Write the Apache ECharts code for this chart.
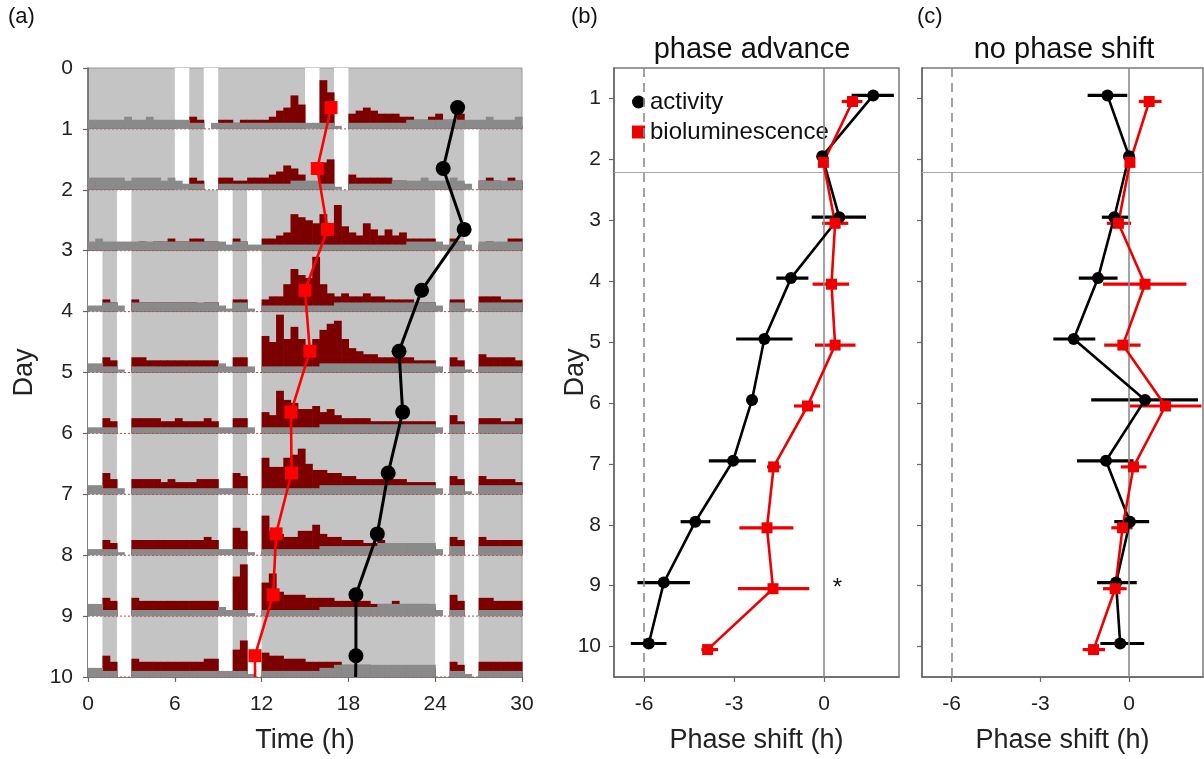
<!DOCTYPE html>
<html><head><meta charset="utf-8">
<script src="https://cdn.jsdelivr.net/npm/echarts@6/dist/echarts.min.js"></script>
<style>html,body{margin:0;padding:0;background:#fff}#c{width:1204px;height:759px}</style>
</head><body><div id="c"></div>
<script>
// ---------- data ----------
const days = [1,2,3,4,5,6,7,8,9,10];
// panel (a): onset times on the actogram (h)
const actOnsetA = [25.55,24.55,26.0,23.06,21.5,21.75,20.75,20.0,18.52,18.52];
const bioPeakA  = [16.8,15.85,16.56,15.0,15.34,14.03,14.07,13.0,12.8,11.54];
const actTailA = 18.5, bioTailA = 11.55;
// actogram traces: one char per 0.5 h bin, base-36 level, 1 level = 0.05 day
const redTrace = [
 "11 22 12 11 11 11 00 43 00 33 23 33 34 67 b8 00 gc 00 56 76 55 54 43 34 53 35 11 12 11 11",
 "33 33 32 11 11 11 00 43 00 44 33 44 45 68 75 12 9a 00 54 44 44 33 22 22 22 22 00 34 32 43",
 "21 21 00 23 23 34 33 44 33 00 43 00 44 56 cb a9 c9 f8 65 97 57 56 44 44 00 43 00 23 22 44",
 "00 43 00 43 33 33 33 32 33 00 44 00 45 59 ec bi 96 56 55 65 54 44 43 33 00 44 00 55 54 44",
 "00 54 00 55 44 44 44 44 44 00 55 00 ca jb fb 8b eg hb 87 66 55 55 54 44 00 54 00 65 55 54",
 "00 54 00 55 55 44 54 44 54 00 55 00 76 eb a8 89 78 65 55 54 44 44 44 44 00 64 00 55 54 45",
 "00 75 00 55 55 45 44 45 55 00 76 00 c9 9c df a8 87 76 65 55 55 55 44 44 00 65 00 65 55 54",
 "00 54 00 55 55 55 55 55 65 00 98 00 d8 76 68 8a 76 65 55 44 54 44 44 33 00 65 00 65 55 55",
 "00 65 00 65 55 55 55 55 55 00 dh 00 be 87 77 66 66 55 55 54 44 54 44 43 00 75 00 66 55 55",
 "00 75 00 65 55 55 55 55 66 00 9c 00 87 76 66 55 55 54 44 43 33 33 33 33 00 54 00 55 55 55"
];
const grayTrace = [
 "33 33 34 33 43 33 33 22 02 22 22 22 22 22 22 22 22 10 22 22 22 22 33 33 33 33 33 34 33 34",
 "44 44 43 44 44 34 32 22 00 22 22 22 22 22 33 33 22 10 22 22 22 33 33 43 33 43 20 33 33 33",
 "34 33 33 33 33 33 33 33 33 32 33 22 22 22 22 22 22 22 22 22 22 22 33 33 32 33 20 33 33 33",
 "22 33 20 33 33 33 33 33 33 21 33 10 22 22 22 22 22 33 33 33 33 33 33 33 20 33 10 33 33 33",
 "33 22 10 22 22 22 22 22 22 32 22 20 22 22 22 22 33 33 33 33 33 33 33 33 20 22 10 22 22 22",
 "22 22 00 22 22 22 22 22 22 22 22 20 22 22 22 22 33 33 33 33 33 33 33 33 20 33 00 33 33 33",
 "33 22 20 22 22 22 22 22 22 22 22 00 22 22 22 22 33 33 33 33 33 33 33 33 20 33 10 33 33 33",
 "22 22 10 22 22 22 22 22 22 22 22 10 22 22 22 22 33 33 33 33 44 44 44 44 20 33 00 33 33 33",
 "44 22 00 22 22 22 22 22 22 32 22 10 22 22 22 22 33 33 33 33 44 44 44 44 20 22 00 22 22 22",
 "33 22 00 22 22 22 22 22 22 22 22 10 22 22 22 22 33 44 44 44 44 44 44 44 00 22 10 22 22 22"
];
const lateRows = [[0,1],[2,3],[9,10],[11,12],[24,25],[26,27]];
const lightBands = [
 [[6,7],[8,9],[15,16],[17,18]],
 [[6,7],[8,9],[17,18],[26,27]],
 [[2,3],[9,10],[11,12],[24,25],[26,27]],
 lateRows, lateRows, lateRows, lateRows, lateRows, lateRows, lateRows
];
// panel (b): phase advance
const actShiftB = [1.64,-0.06,0.51,-1.10,-1.99,-2.40,-3.03,-4.29,-5.34,-5.84];
const actLoB    = [0.92,-0.12,-0.41,-1.59,-2.93,-2.52,-3.84,-4.78,-6.22,-6.44];
const actHiB    = [2.33,0.00,1.40,-0.52,-1.05,-2.28,-2.27,-3.79,-4.47,-5.25];
const bioShiftB = [0.95,-0.02,0.37,0.25,0.37,-0.55,-1.68,-1.90,-1.70,-3.88];
const bioLoB    = [0.59,-0.10,-0.06,-0.38,-0.30,-1.00,-1.90,-2.82,-2.87,-4.09];
const bioHiB    = [1.28,0.06,0.81,0.84,1.05,-0.13,-1.44,-1.02,-0.49,-3.53];
// panel (c): no phase shift
const actShiftC = [-0.73,0.00,-0.50,-1.05,-1.87,0.54,-0.78,0.03,-0.44,-0.30];
const actLoC    = [-1.40,-0.06,-0.92,-1.70,-2.56,-1.28,-1.76,-0.50,-1.08,-0.97];
const actHiC    = [-0.06,0.08,-0.02,-0.39,-1.14,2.33,0.15,0.68,0.26,0.51];
const bioShiftC = [0.68,0.03,-0.36,0.54,-0.21,1.23,0.15,-0.22,-0.47,-1.20];
const bioLoC    = [0.33,-0.04,-0.75,-0.88,-0.84,0.03,-0.28,-0.60,-0.88,-1.57];
const bioHiC    = [1.10,0.10,0.07,1.94,0.39,2.45,0.59,0.12,-0.08,-0.81];
const shiftDay = 2.22;
const dayTicks = [1,2,3,4,5,6,7,8,9,10];
const shiftTicks = [-6,-3,0];

// ---------- build ----------
const BIN = 0.5, UNIT = 0.05;
const FONT = "'Liberation Sans', Arial, sans-serif";
const RED_T = '#7c0000', GRAY_T = '#8a8a8a', BG = '#c4c4c4';
const parse = s => s.replace(/\s/g,'').split('').map(c => parseInt(c,36));
const redData = [], grayData = [];
redTrace.forEach((s,i) => {
  const r = parse(s), g = parse(grayTrace[i]);
  r.forEach((v,b) => { redData.push([b*BIN, i+1, v]); grayData.push([b*BIN, i+1, g[b]]); });
});
const bandData = [];
lightBands.forEach((bands,i) => bands.forEach(b => bandData.push([b[0], b[1], i+1])));
const offA = 0.35, offB = 0.05;
const actA = days.map((d,i) => [actOnsetA[i], d-offA]).concat([{value:[actTailA,10], symbol:'none'}]);
const bioA = days.map((d,i) => [bioPeakA[i], d-offA]).concat([{value:[bioTailA,10], symbol:'none'}]);
const mk = (xs, sign) => days.map((d,i) => [xs[i], d + sign*offB]);
const mkErr = (lo, hi, sign) => days.map((d,i) => [lo[i], hi[i], d + sign*offB]);

const errRender = color => (params, api) => {
  const p1 = api.coord([api.value(0), api.value(2)]);
  const p2 = api.coord([api.value(1), api.value(2)]);
  return {type:'line', shape:{x1:p1[0],y1:p1[1],x2:p2[0],y2:p2[1]}, style:{stroke:color, lineWidth:3.2}};
};
const barRender = color => (p, api) => {
  const t0 = api.value(0), row = api.value(1), h = api.value(2)*UNIT;
  if (!(h > 0)) return null;
  const a = api.coord([t0, row]), b = api.coord([t0+BIN, row]);
  const top = api.coord([t0, row-h])[1];
  return {type:'rect', shape:{x:a[0], y:top, width:b[0]-a[0]+0.6, height:a[1]-top}, style:{fill:color}};
};

const axisCommon = {
  axisLine:{show:true, onZero:false, lineStyle:{color:'#666', width:1.5}},
  axisTick:{show:true, inside:false, length:5, lineStyle:{color:'#666', width:1.2}},
  splitLine:{show:false},
  axisLabel:{fontSize:21, color:'#222', fontFamily:FONT}
};
const nameStyle = {fontSize:27, color:'#222', fontFamily:FONT};
const xLab = extra => Object.assign({}, axisCommon.axisLabel, {margin:17}, extra || {});

const refLines = (xi) => ({
  type:'line', xAxisIndex:xi, yAxisIndex:xi, data:[[-6.5,10.4]], symbol:'none', silent:true, z:1,
  lineStyle:{opacity:0},
  markLine:{symbol:['none','none'], silent:true, label:{show:false}, animation:false,
    data:[
      {xAxis:0, lineStyle:{color:'#8c8c8c', width:1.6, type:'solid'}},
      {xAxis:-6, lineStyle:{color:'#8c8c8c', width:1.6, type:[9,6]}},
      {yAxis:shiftDay, lineStyle:{color:'#a8a8a8', width:1.2, type:'solid'}}
    ]}
});

const option = {
  animation:false,
  textStyle:{fontFamily:FONT},
  grid:[
    {left:88, top:68, width:434, height:611, show:true, backgroundColor:BG, borderColor:'#9a9a9a', borderWidth:1},
    {left:614, top:68, width:285, height:610, show:true, borderColor:'#7a7a7a', borderWidth:1.5},
    {left:922, top:68, width:281, height:610, show:true, borderColor:'#7a7a7a', borderWidth:1.5}
  ],
  legend:{
    data:[{name:'activity', icon:'circle'},{name:'bioluminescence', icon:'rect'}],
    left:627, top:85, orient:'vertical', itemWidth:13, itemHeight:13, itemGap:6,
    textStyle:{fontSize:24, color:'#111', fontFamily:FONT}, selectedMode:false
  },
  xAxis:[
    Object.assign({}, axisCommon, {gridIndex:0, type:'value', min:0, max:30, interval:6,
      name:'Time (h)', nameLocation:'middle', nameGap:50, nameTextStyle:nameStyle, axisLabel:xLab()}),
    Object.assign({}, axisCommon, {gridIndex:1, type:'value', min:-7, max:2.5,
      name:'Phase shift (h)', nameLocation:'middle', nameGap:50, nameTextStyle:nameStyle,
      axisTick:Object.assign({}, axisCommon.axisTick, {customValues:shiftTicks}),
      axisLabel:xLab({customValues:shiftTicks})}),
    Object.assign({}, axisCommon, {gridIndex:2, type:'value', min:-7, max:2.5,
      name:'Phase shift (h)', nameLocation:'middle', nameGap:50, nameTextStyle:nameStyle,
      axisTick:Object.assign({}, axisCommon.axisTick, {customValues:shiftTicks}),
      axisLabel:xLab({customValues:shiftTicks})})
  ],
  yAxis:[
    Object.assign({}, axisCommon, {gridIndex:0, type:'value', min:0, max:10, interval:1, inverse:true,
      name:'Day', nameLocation:'middle', nameGap:50, nameTextStyle:nameStyle,
      axisLabel:Object.assign({}, axisCommon.axisLabel, {margin:15})}),
    Object.assign({}, axisCommon, {gridIndex:1, type:'value', min:0.5, max:10.5, inverse:true,
      name:'Day', nameLocation:'middle', nameGap:25, nameMoveOverlap:false, nameTextStyle:nameStyle,
      axisTick:Object.assign({}, axisCommon.axisTick, {customValues:dayTicks}),
      axisLabel:Object.assign({}, axisCommon.axisLabel, {margin:13, customValues:dayTicks})}),
    Object.assign({}, axisCommon, {gridIndex:2, type:'value', min:0.5, max:10.5, inverse:true,
      axisTick:Object.assign({}, axisCommon.axisTick, {customValues:dayTicks}),
      axisLabel:{show:false}})
  ],
  series:[
    // actogram: light bands
    {type:'custom', name:'bands', xAxisIndex:0, yAxisIndex:0, data:bandData, z:1, silent:true,
      encode:{x:[0,1], y:2},
      renderItem:(p, api) => {
        const a = api.coord([api.value(0), api.value(2)-1]);
        const b = api.coord([api.value(1), api.value(2)]);
        return {type:'rect', shape:{x:a[0], y:a[1], width:b[0]-a[0], height:b[1]-a[1]}, style:{fill:'#ffffff'}};
      }},
    // actogram: baselines
    {type:'custom', name:'baselines', xAxisIndex:0, yAxisIndex:0, data:days.map(d => [0, d]), z:2, silent:true,
      renderItem:(p, api) => {
        const a = api.coord([0, api.value(1)]), b = api.coord([30, api.value(1)]);
        return {type:'line', shape:{x1:a[0], y1:a[1], x2:b[0], y2:b[1]}, style:{stroke:'#b05050', lineWidth:1, lineDash:[2,2]}};
      }},
    // actogram: traces (gray drawn over red)
    {type:'custom', name:'redTrace', xAxisIndex:0, yAxisIndex:0, data:redData, z:3, silent:true, renderItem:barRender(RED_T)},
    {type:'custom', name:'grayTrace', xAxisIndex:0, yAxisIndex:0, data:grayData, z:4, silent:true, renderItem:barRender(GRAY_T)},
    {type:'line', name:'aAct', xAxisIndex:0, yAxisIndex:0, data:actA, z:5, symbol:'circle', symbolSize:15,
      itemStyle:{color:'#000'}, lineStyle:{color:'#000', width:3}},
    {type:'line', name:'aBio', xAxisIndex:0, yAxisIndex:0, data:bioA, z:5, symbol:'rect', symbolSize:13,
      itemStyle:{color:'#ff0000'}, lineStyle:{color:'#ff0000', width:2.6}},
    // panel b
    refLines(1),
    {type:'custom', name:'bActErr', xAxisIndex:1, yAxisIndex:1, data:mkErr(actLoB, actHiB, -1), z:3,
      encode:{x:[0,1], y:2}, renderItem:errRender('#000')},
    {type:'custom', name:'bBioErr', xAxisIndex:1, yAxisIndex:1, data:mkErr(bioLoB, bioHiB, 1), z:3,
      encode:{x:[0,1], y:2}, renderItem:errRender('#ee0000')},
    {type:'line', name:'activity', xAxisIndex:1, yAxisIndex:1, data:mk(actShiftB,-1), z:5, symbol:'circle', symbolSize:12,
      itemStyle:{color:'#000'}, lineStyle:{color:'#000', width:2.6}},
    {type:'line', name:'bioluminescence', xAxisIndex:1, yAxisIndex:1, data:mk(bioShiftB,1), z:5, symbol:'rect', symbolSize:11,
      itemStyle:{color:'#ee0000'}, lineStyle:{color:'#ee0000', width:2.6}},
    // panel c
    refLines(2),
    {type:'custom', name:'cActErr', xAxisIndex:2, yAxisIndex:2, data:mkErr(actLoC, actHiC, -1), z:3,
      encode:{x:[0,1], y:2}, renderItem:errRender('#000')},
    {type:'custom', name:'cBioErr', xAxisIndex:2, yAxisIndex:2, data:mkErr(bioLoC, bioHiC, 1), z:3,
      encode:{x:[0,1], y:2}, renderItem:errRender('#ee0000')},
    {type:'line', name:'cAct', xAxisIndex:2, yAxisIndex:2, data:mk(actShiftC,-1), z:5, symbol:'circle', symbolSize:12,
      itemStyle:{color:'#000'}, lineStyle:{color:'#000', width:2.6}},
    {type:'line', name:'cBio', xAxisIndex:2, yAxisIndex:2, data:mk(bioShiftC,1), z:5, symbol:'rect', symbolSize:11,
      itemStyle:{color:'#ee0000'}, lineStyle:{color:'#ee0000', width:2.6}}
  ]
};
const chart = echarts.init(document.getElementById('c'), null, {renderer:'canvas'});
chart.setOption(option);
const star = chart.convertToPixel({gridIndex:1}, [0.45, 9.05]);
chart.setOption({graphic:[
  {type:'text', left:8, top:6, style:{text:'(a)', fontSize:22, fill:'#111', fontFamily:FONT}},
  {type:'text', left:571, top:6, style:{text:'(b)', fontSize:22, fill:'#111', fontFamily:FONT}},
  {type:'text', left:917, top:6, style:{text:'(c)', fontSize:22, fill:'#111', fontFamily:FONT}},
  {type:'text', x:752, y:50, style:{text:'phase advance', fontSize:29, fill:'#111', fontFamily:FONT, align:'center', verticalAlign:'middle'}},
  {type:'text', x:1064, y:50, style:{text:'no phase shift', fontSize:29, fill:'#111', fontFamily:FONT, align:'center', verticalAlign:'middle'}},
  {type:'text', x:star[0], y:star[1], style:{text:'*', fontSize:24, fill:'#111', fontFamily:FONT, align:'center', verticalAlign:'middle'}}
]});
</script>
</body></html>
